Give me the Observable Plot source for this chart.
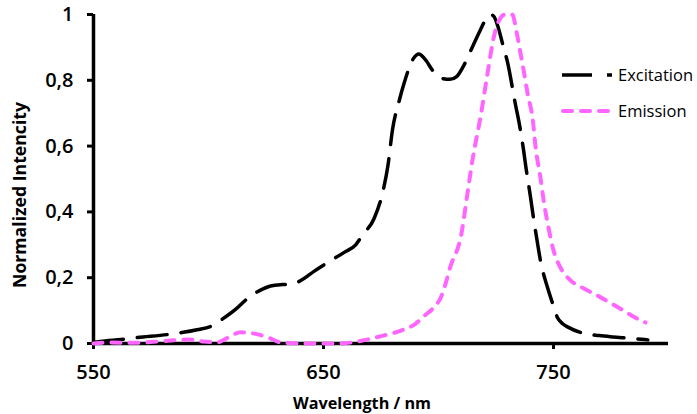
<!DOCTYPE html>
<html>
<head>
<meta charset="utf-8">
<script src="https://cdn.jsdelivr.net/npm/d3@7"></script>
<script src="https://cdn.jsdelivr.net/npm/@observablehq/plot@0.6"></script>
<style>
  html, body { margin: 0; padding: 0; background: #fff; }
  #wrap { position: relative; width: 697px; height: 414px; }
  #overlay { position: absolute; left: 0; top: 0; pointer-events: none; }
</style>
</head>
<body>
<div id="wrap"></div>
<script>
// Excitation spectrum (wavelength nm, normalized intensity)
const excNm = [550, 555, 562, 569, 582, 589, 595, 601, 606, 612, 617, 622, 627, 632, 636, 641, 646, 652, 659, 664, 667, 672, 676, 678, 680, 683, 685, 689, 691.5, 694, 698, 702, 705, 708, 711, 714, 718, 721, 722.5, 724, 726, 728, 730, 733.5, 735, 737, 738, 740, 741, 743, 744.3, 747.4, 749.6, 751.7, 754, 756.5, 763, 770, 776, 783, 791];
const excVal = [0.004, 0.008, 0.012, 0.018, 0.027, 0.034, 0.042, 0.052, 0.074, 0.105, 0.137, 0.16, 0.175, 0.179, 0.18, 0.195, 0.22, 0.247, 0.277, 0.30, 0.33, 0.38, 0.467, 0.54, 0.65, 0.74, 0.79, 0.865, 0.88, 0.865, 0.825, 0.805, 0.803, 0.812, 0.845, 0.89, 0.95, 0.99, 1.0, 0.995, 0.96, 0.907, 0.855, 0.725, 0.673, 0.587, 0.536, 0.445, 0.396, 0.307, 0.253, 0.17, 0.122, 0.079, 0.06, 0.049, 0.031, 0.024, 0.02, 0.016, 0.011];

// Emission spectrum
const emiNm = [550, 557, 567, 578, 585, 591, 598, 604, 607, 610, 614, 620, 626, 631, 637, 643, 657, 663, 667, 676, 684, 690, 694, 698, 701, 703, 705, 710, 712.6, 715, 718.3, 721.3, 724, 727, 729, 732, 734, 735, 737, 738.7, 741, 742.2, 744.3, 745.7, 747.8, 750, 753, 757.4, 763, 769, 778, 788, 790];
const emiVal = [0, 0.003, 0.002, 0.006, 0.01, 0.012, 0.006, 0.004, 0.012, 0.024, 0.034, 0.03, 0.018, 0.004, 0.001, 0, 0, 0.004, 0.009, 0.024, 0.04, 0.06, 0.085, 0.11, 0.14, 0.18, 0.23, 0.335, 0.457, 0.567, 0.69, 0.82, 0.93, 0.99, 1.0, 1.0, 0.945, 0.907, 0.831, 0.761, 0.679, 0.597, 0.505, 0.435, 0.353, 0.283, 0.231, 0.192, 0.168, 0.146, 0.11, 0.07, 0.064];

const xTicks = [550, 650, 750];
const yTicks = [0, 0.2, 0.4, 0.6, 0.8, 1];
const yTickLabels = ["0", "0,2", "0,4", "0,6", "0,8", "1"];
const seriesNames = ["Excitation", "Emission"];
const xTitle = "Wavelength / nm";
const yTitle = "Normalized Intencity";

const excitation = excNm.map((x, i) => ({nm: x, v: excVal[i]}));
const emission = emiNm.map((x, i) => ({nm: x, v: emiVal[i]}));

const pink = "#ff66ff";

const chart = Plot.plot({
  width: 697,
  height: 414,
  marginLeft: 93,
  marginRight: 29,
  marginTop: 14,
  marginBottom: 71,
  x: {domain: [550, 800]},
  y: {domain: [0, 1]},
  style: {fontFamily: "'Open Sans', sans-serif", fontSize: "20px", fontWeight: 600, color: "#000", background: "#fff"},
  marks: [
    Plot.axisY({ticks: yTicks, tickSize: 6, tickPadding: 14, strokeWidth: 3,
      tickFormat: d => yTickLabels[yTicks.indexOf(d)], label: null}),
    Plot.axisX({ticks: xTicks, tickSize: 6, tickPadding: 15, strokeWidth: 3, label: null}),
    Plot.ruleX([550], {stroke: "#000", strokeWidth: 3.5}),
    Plot.ruleY([0], {stroke: "#000", strokeWidth: 3.5}),
    Plot.line(excitation, {x: "nm", y: "v", stroke: "#000", strokeWidth: 3.5,
      strokeDasharray: "30,14", curve: "monotone-x"}),
    Plot.line(emission, {x: "nm", y: "v", stroke: pink, strokeWidth: 4,
      strokeDasharray: "9,9", strokeLinecap: "round", curve: "monotone-x"})
  ]
});

const wrap = document.getElementById("wrap");
wrap.appendChild(chart);

// Overlay: axis titles and legend
const ns = "http://www.w3.org/2000/svg";
const ov = document.createElementNS(ns, "svg");
ov.setAttribute("id", "overlay");
ov.setAttribute("width", 697);
ov.setAttribute("height", 414);
ov.setAttribute("font-family", "'Open Sans', sans-serif");
wrap.appendChild(ov);
function el(tag, attrs, text) {
  const e = document.createElementNS(ns, tag);
  for (const k in attrs) e.setAttribute(k, attrs[k]);
  if (text != null) e.textContent = text;
  ov.appendChild(e);
  return e;
}
function fit(t, target, base) {
  const len = t.getComputedTextLength();
  if (len > 0) {
    const s = Math.max(12, Math.min(19, base * target / len));
    t.setAttribute("font-size", s);
  }
}
const xt = el("text", {x: 362, y: 409, "text-anchor": "middle", "font-size": 15, "font-weight": 700}, xTitle);
fit(xt, 138, 15);
const yt = el("text", {x: 0, y: 0, transform: "translate(26,195) rotate(-90)", "text-anchor": "middle", "font-size": 15, "font-weight": 700}, yTitle);
fit(yt, 186, 15);
// legend
el("line", {x1: 562, x2: 612, y1: 75, y2: 75, stroke: "#000", "stroke-width": 3.5, "stroke-dasharray": "30,15"});
el("text", {x: 618, y: 81, "font-size": 16.5}, seriesNames[0]);
el("line", {x1: 563, x2: 612, y1: 111, y2: 111, stroke: pink, "stroke-width": 4, "stroke-dasharray": "9,9", "stroke-linecap": "round"});
el("text", {x: 618, y: 117, "font-size": 16.5}, seriesNames[1]);
</script>
</body>
</html>
